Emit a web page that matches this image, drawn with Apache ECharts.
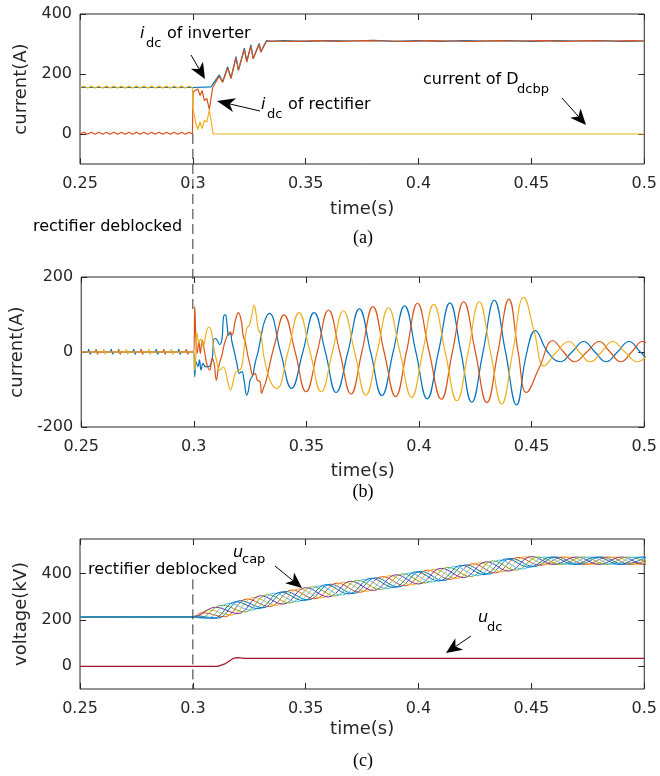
<!DOCTYPE html>
<html><head><meta charset="utf-8">
<script src="https://cdn.jsdelivr.net/npm/echarts@6/dist/echarts.min.js"></script>
<style>html,body{margin:0;padding:0;background:#fff}#c{width:660px;height:776px}</style>
</head><body><div id="c"></div>
<script>
// ---------- tick labels ----------
const xTickLabels = ['0.25','0.3','0.35','0.4','0.45','0.5'];
const yTicksA = [0,200,400];
const yTicksB = [-200,0,200];
const yTicksC = [0,200,400];

// ---------- (a) DC currents ----------
const idcInverter = [[0.25,155],[0.30,155],[0.3005,158],[0.3080,157],[0.3088,158],[0.3117,197],[0.3132,174],[0.3154,224],[0.3169,186],[0.3191,258],[0.3202,213],[0.3228,286],[0.3239,241],[0.3257,297],[0.3267,252],[0.3294,302],[0.3301,274],[0.3326,311],[0.335,309],[0.34,311],[0.35,309],[0.36,311],[0.37,310],[0.38,312],[0.39,309],[0.40,311],[0.41,309],[0.42,311],[0.43,310],[0.44,311],[0.45,309],[0.46,311],[0.47,310],[0.48,311],[0.49,309],[0.5,310]];
const idcRectifier = [[0.25,0],[0.2517,6],[0.2533,-1],[0.255,6],[0.2567,-1],[0.2583,6],[0.26,-1],[0.2617,6],[0.2633,-1],[0.265,6],[0.2667,-1],[0.2683,6],[0.27,-1],[0.2717,6],[0.2733,-1],[0.275,6],[0.2767,-1],[0.2783,6],[0.28,-1],[0.2817,6],[0.2833,-1],[0.285,6],[0.2867,-1],[0.2883,6],[0.29,-1],[0.2917,6],[0.2933,-1],[0.295,6],[0.2967,-1],[0.2983,6],[0.2998,0],[0.3001,140],[0.3012,146],[0.3022,150],[0.3032,128],[0.3041,145],[0.3051,112],[0.3062,118],[0.3073,82],[0.3088,155],[0.3117,193],[0.3132,172],[0.3154,220],[0.3169,185],[0.3191,254],[0.3202,212],[0.3228,282],[0.3239,240],[0.3257,293],[0.3267,251],[0.3294,299],[0.3301,273],[0.3326,309],[0.335,310],[0.345,309],[0.355,311],[0.365,309],[0.375,311],[0.385,310],[0.395,309],[0.405,311],[0.415,310],[0.425,309],[0.435,311],[0.445,310],[0.455,311],[0.465,309],[0.475,311],[0.485,310],[0.495,311],[0.5,310]];
const idcDcbp = [[0.25,155],[0.2517,160],[0.2533,153],[0.255,160],[0.2567,153],[0.2583,160],[0.26,153],[0.2617,160],[0.2633,153],[0.265,160],[0.2667,153],[0.2683,160],[0.27,153],[0.2717,160],[0.2733,153],[0.275,160],[0.2767,153],[0.2783,160],[0.28,153],[0.2817,160],[0.2833,153],[0.285,160],[0.2867,153],[0.2883,160],[0.29,153],[0.2917,160],[0.2933,153],[0.295,160],[0.2967,153],[0.2983,160],[0.2998,155],[0.3001,85],[0.3012,40],[0.3022,15],[0.3032,40],[0.3041,18],[0.3051,45],[0.3062,40],[0.3073,80],[0.3090,0],[0.5,0]];
const deblockA = [[0.3,0],[0.3,-590]];

// ---------- (b) AC phase currents ----------
const iaB = [[0.25,0],[0.2528,0],[0.2533,7],[0.2540,-6],[0.2545,0],[0.2628,0],[0.2633,7],[0.2640,-6],[0.2645,0],[0.2728,0],[0.2733,7],[0.2740,-6],[0.2745,0],[0.2828,0],[0.2833,7],[0.2840,-6],[0.2845,0],[0.2928,0],[0.2933,7],[0.2940,-6],[0.2945,0],[0.3,0],[0.3004,-66],[0.301,-26],[0.3018,-39],[0.3025,-21],[0.3032,-48],[0.3041,-30],[0.3051,-39],[0.3066,-39],[0.3081,-21],[0.3088,32],[0.3095,36],[0.3103,32],[0.3115,20],[0.3125,35],[0.3132,94],[0.314,99],[0.3147,76],[0.3154,45],[0.3162,50],[0.3169,28],[0.318,0],[0.3191,-30],[0.3203,-57],[0.3213,-52],[0.3223,-75],[0.3235,-115],[0.3243,-101],[0.325,-75],[0.3262,-61],[0.3272,-30],[0.3287,5],[0.3301,50],[0.3316,85],[0.3335,103],[0.3385,0],[0.3434,-97],[0.3484,0],[0.3534,105],[0.3584,0],[0.3632,-108],[0.3684,0],[0.3735,115],[0.3785,0],[0.3835,-116],[0.3885,0],[0.3936,123],[0.3986,0],[0.4036,-125],[0.4086,0],[0.4137,131],[0.4186,0],[0.4234,-134],[0.4284,0],[0.4334,138],[0.4384,0],[0.4433,-141],[0.4477,-5],[0.4516,57],[0.4571,0],[0.4627,-26],[0.4679,0],[0.4731,28],[0.4781,0],[0.4831,-26],[0.4881,0],[0.4932,28],[0.4982,0],[0.503,-26]];
const ibB = [[0.25,0],[0.2561,0],[0.2566,7],[0.2573,-6],[0.2578,0],[0.2661,0],[0.2666,7],[0.2673,-6],[0.2678,0],[0.2761,0],[0.2766,7],[0.2773,-6],[0.2778,0],[0.2861,0],[0.2866,7],[0.2873,-6],[0.2878,0],[0.2961,0],[0.2966,7],[0.2973,-6],[0.2978,0],[0.3,0],[0.3004,121],[0.3009,41],[0.3015,-4],[0.3022,28],[0.3029,-4],[0.3037,32],[0.3048,0],[0.3059,-35],[0.3071,-48],[0.3081,-17],[0.309,-30],[0.31,-75],[0.311,-40],[0.3125,-8],[0.314,30],[0.3162,54],[0.3169,45],[0.3185,85],[0.3198,105],[0.321,85],[0.322,41],[0.3228,28],[0.324,-10],[0.325,-35],[0.3262,-61],[0.3272,-57],[0.3282,-75],[0.3294,-79],[0.3301,-110],[0.331,-95],[0.332,-79],[0.3338,-30],[0.336,23],[0.34,99],[0.345,0],[0.3498,-106],[0.3548,0],[0.3598,112],[0.3648,0],[0.3698,-112],[0.3746,0],[0.3795,121],[0.3845,0],[0.3896,-119],[0.3944,0],[0.3993,130],[0.4045,0],[0.4099,-126],[0.4148,0],[0.4198,134],[0.425,0],[0.4301,-135],[0.435,0],[0.4399,141],[0.444,0],[0.4477,-108],[0.4535,-40],[0.4594,30],[0.4642,0],[0.469,-26],[0.4745,0],[0.48,28],[0.4848,0],[0.4896,-26],[0.4944,0],[0.4992,28],[0.505,0]];
const icB = [[0.25,0],[0.2595,0],[0.26,7],[0.2607,-6],[0.2612,0],[0.2695,0],[0.27,7],[0.2707,-6],[0.2712,0],[0.2795,0],[0.28,7],[0.2807,-6],[0.2812,0],[0.2895,0],[0.29,7],[0.2907,-6],[0.2912,0],[0.3,0],[0.3003,-48],[0.3007,-30],[0.3015,50],[0.3022,25],[0.303,35],[0.3041,15],[0.3056,54],[0.3066,66],[0.3076,59],[0.3088,14],[0.31,-20],[0.3115,-48],[0.313,-40],[0.3154,-88],[0.3162,-101],[0.3173,-84],[0.3185,-55],[0.32,-50],[0.3213,-39],[0.3225,20],[0.3235,63],[0.3247,72],[0.3258,100],[0.3268,125],[0.3276,103],[0.3287,58],[0.3297,50],[0.3309,-4],[0.3324,-48],[0.3345,-84],[0.3368,-97],[0.3418,0],[0.3467,105],[0.3516,0],[0.3566,-106],[0.3615,0],[0.3664,110],[0.3714,0],[0.3764,-115],[0.3814,0],[0.3864,118],[0.3915,0],[0.3967,-121],[0.4016,0],[0.4065,127],[0.4116,0],[0.4168,-130],[0.4218,0],[0.4267,134],[0.4317,0],[0.4367,-139],[0.4416,0],[0.4465,146],[0.4513,50],[0.4555,-37],[0.461,0],[0.4665,28],[0.4712,0],[0.476,-26],[0.481,0],[0.4859,28],[0.4914,0],[0.4969,-26],[0.5025,0]];

// ---------- (c) capacitor voltages and DC voltage ----------
const ucap1 = [[0.25,212],[0.3,212],[0.301,217],[0.311,207],[0.321,283],[0.331,252],[0.341,323],[0.351,286],[0.361,354],[0.371,314],[0.381,382],[0.391,342],[0.401,410],[0.411,370],[0.421,438],[0.431,398],[0.441,466],[0.451,431],[0.461,472],[0.471,440],[0.481,472],[0.491,440],[0.501,472]];
const ucap2 = [[0.25,212],[0.3,212],[0.304,231],[0.314,213],[0.324,290],[0.334,257],[0.344,329],[0.354,291],[0.364,359],[0.374,319],[0.384,387],[0.394,347],[0.404,415],[0.414,375],[0.424,443],[0.434,403],[0.444,470],[0.454,436],[0.464,472],[0.474,440],[0.484,472],[0.494,440],[0.504,472]];
const ucap3 = [[0.25,212],[0.3,212],[0.307,243],[0.317,220],[0.327,297],[0.337,262],[0.347,334],[0.357,295],[0.367,363],[0.377,323],[0.387,391],[0.397,351],[0.407,419],[0.417,379],[0.427,447],[0.437,407],[0.447,473],[0.457,440],[0.467,472],[0.477,440],[0.487,472],[0.497,440],[0.507,472]];
const ucap4 = [[0.25,212],[0.3,212],[0.31,254],[0.32,227],[0.33,304],[0.34,268],[0.35,339],[0.36,299],[0.37,367],[0.38,327],[0.39,395],[0.40,355],[0.41,423],[0.42,383],[0.43,451],[0.44,411],[0.45,474],[0.46,440],[0.47,472],[0.48,440],[0.49,472],[0.50,440],[0.51,472]];
const ucap5 = [[0.25,212],[0.3,212],[0.303,208],[0.313,263],[0.323,234],[0.333,309],[0.343,273],[0.353,343],[0.363,303],[0.373,371],[0.383,331],[0.393,399],[0.403,359],[0.413,427],[0.423,387],[0.433,455],[0.443,415],[0.453,472],[0.463,440],[0.473,472],[0.483,440],[0.493,472],[0.503,440]];
const ucap6 = [[0.25,212],[0.3,212],[0.306,206],[0.316,271],[0.326,241],[0.336,315],[0.346,278],[0.356,347],[0.366,307],[0.376,375],[0.386,335],[0.396,403],[0.406,363],[0.416,431],[0.426,391],[0.436,459],[0.446,420],[0.456,472],[0.466,440],[0.476,472],[0.486,440],[0.496,472],[0.506,440]];
const ucap7 = [[0.25,212],[0.3,212],[0.309,206],[0.319,278],[0.329,248],[0.339,320],[0.349,283],[0.359,352],[0.369,312],[0.379,380],[0.389,340],[0.399,408],[0.409,368],[0.419,436],[0.429,396],[0.439,464],[0.449,428],[0.459,472],[0.469,440],[0.479,472],[0.489,440],[0.499,472],[0.509,440]];
const udc = [[0.25,-2],[0.311,-2],[0.3145,10],[0.318,33],[0.3195,36],[0.323,33],[0.35,33],[0.4,33],[0.45,33],[0.5,33]];
const deblockC = [[0.3,375],[0.3,-100]];

// ---------- styling ----------
const FONT = 'DejaVu Sans';
const AX = '#262626';
const C = {blue:'#0072BD', orange:'#D95319', yellow:'#EDB120', purple:'#7E2F8E', green:'#77AC30', cyan:'#4DBEEE', red:'#A2142F'};

const grids = [
  {left:80, top:14, width:567, height:150},
  {left:80, top:277, width:567, height:150},
  {left:80, top:539, width:567, height:150}
];
grids.forEach(g=>{g.show=true; g.borderColor=AX; g.borderWidth=1; g.backgroundColor='transparent';});

function xBottom(gi, gap){
  return {type:'value', gridIndex:gi, min:0.25, max:0.5, interval:0.05, position:'bottom',
    axisLine:{show:false,onZero:false}, axisTick:{inside:true,length:6,lineStyle:{color:AX}},
    axisLabel:{margin:12,color:AX,fontFamily:FONT,fontSize:16,formatter:v=>xTickLabels[Math.round((v-0.25)/0.05)]},
    splitLine:{show:false}, name:'time(s)', nameLocation:'middle', nameGap:gap,
    nameTextStyle:{color:AX,fontFamily:FONT,fontSize:18}};
}
function xTop(gi){
  return {type:'value', gridIndex:gi, min:0.25, max:0.5, interval:0.05, position:'top',
    axisLine:{show:false,onZero:false}, axisTick:{inside:true,length:6,lineStyle:{color:AX}},
    axisLabel:{show:false}, splitLine:{show:false}};
}
function yLeft(gi, min, max, ticks, name){
  return {type:'value', gridIndex:gi, min, max, position:'left',
    axisLine:{show:false,onZero:false}, axisTick:{inside:true,length:6,customValues:ticks,lineStyle:{color:AX}},
    axisLabel:{customValues:ticks,margin:8,color:AX,fontFamily:FONT,fontSize:16},
    splitLine:{show:false}, name, nameLocation:'middle', nameGap:50,
    nameTextStyle:{color:AX,fontFamily:FONT,fontSize:18}};
}
function yRight(gi, min, max, ticks){
  return {type:'value', gridIndex:gi, min, max, position:'right',
    axisLine:{show:false,onZero:false}, axisTick:{inside:true,length:6,customValues:ticks,lineStyle:{color:AX}},
    axisLabel:{show:false,customValues:ticks}, splitLine:{show:false}};
}

function line(gi, data, color, extra){
  return Object.assign({type:'line', xAxisIndex:gi, yAxisIndex:gi, data, showSymbol:false, symbol:'none',
    lineStyle:{color, width:1.2}, itemStyle:{color}, animation:false}, extra||{});
}

const series = [
  line(0, idcInverter, C.blue),
  line(0, idcRectifier, C.orange),
  line(0, idcDcbp, C.yellow),
  line(0, deblockA, '#333', {clip:false, lineStyle:{color:'#333',width:1,type:[10,5]}}),
  line(1, iaB, C.blue, {smooth:0.45}),
  line(1, ibB, C.orange, {smooth:0.45}),
  line(1, icB, C.yellow, {smooth:0.45}),
  line(2, ucap1, C.blue, {smooth:0.4, lineStyle:{color:C.blue,width:1}}),
  line(2, ucap2, C.orange, {smooth:0.4, lineStyle:{color:C.orange,width:1}}),
  line(2, ucap3, C.yellow, {smooth:0.4, lineStyle:{color:C.yellow,width:1}}),
  line(2, ucap4, C.purple, {smooth:0.4, lineStyle:{color:C.purple,width:1}}),
  line(2, ucap5, C.green, {smooth:0.4, lineStyle:{color:C.green,width:1}}),
  line(2, ucap6, C.cyan, {smooth:0.4, lineStyle:{color:C.cyan,width:1}}),
  line(2, ucap7, C.blue, {smooth:0.4, lineStyle:{color:C.blue,width:1}}),
  line(2, udc, C.red),
  line(2, deblockC, '#333', {lineStyle:{color:'#333',width:1,type:[10,5]}})
];

// ---------- annotations ----------
function txt(x, y, s, size, opts){
  opts = opts || {};
  return {type:'text', x, y, z:100, silent:true, style:{text:s, fill:opts.fill||'#000',
    font:(opts.italic?'italic ':'')+size+'px '+(opts.family||FONT),
    align:opts.align||'left', verticalAlign:'middle', textAlign:opts.align||'left', textVerticalAlign:'middle'}};
}
function arrow(x1,y1,x2,y2,L,W){
  const dx=x2-x1, dy=y2-y1, len=Math.hypot(dx,dy), ux=dx/len, uy=dy/len, nx=-uy, ny=ux;
  const bx=x2-L*ux, by=y2-L*uy, mx=x2-0.72*L*ux, my=y2-0.72*L*uy;
  return [
    {type:'line', z:100, silent:true, shape:{x1,y1,x2:mx,y2:my}, style:{stroke:'#000',lineWidth:1}},
    {type:'polygon', z:100, silent:true, shape:{points:[[x2,y2],[bx+W*nx,by+W*ny],[mx,my],[bx-W*nx,by-W*ny]]}, style:{fill:'#000'}}
  ];
}
const SERIF = 'Liberation Serif';
const graphic = [
  txt(140,34,'i',16,{italic:true}), txt(146,44,'dc',13), txt(167,34,'of inverter',16),
  txt(261,105,'i',16,{italic:true}), txt(267,115,'dc',13), txt(288,105,'of rectifier',16),
  txt(423,80,'current of D',16), txt(517,90,'dcbp',13),
  txt(33,227,'rectifier deblocked',16),
  txt(88,570,'rectifier deblocked',16),
  txt(233,553,'u',16,{italic:true}), txt(242,560,'cap',13),
  txt(478,618,'u',16,{italic:true}), txt(487,628,'dc',13),
  txt(363,238,'(a)',18,{family:SERIF,align:'center'}),
  txt(363,492,'(b)',18,{family:SERIF,align:'center'}),
  txt(363,761,'(c)',18,{family:SERIF,align:'center'}),
  ...arrow(191,55,205,79,16,7),
  ...arrow(260,111,217,101,18,7),
  ...arrow(562,98,586,125,16,7),
  ...arrow(275,566,302,588,16,7),
  ...arrow(471,636,446,653,16,7)
];

const chart = echarts.init(document.getElementById('c'), null, {renderer:'canvas'});
chart.setOption({
  animation:false,
  backgroundColor:'#fff',
  grid:grids,
  xAxis:[xBottom(0,36), xBottom(1,35), xBottom(2,31), xTop(0), xTop(1), xTop(2)],
  yAxis:[yLeft(0,-100,400,yTicksA,'current(A)'), yLeft(1,-200,200,yTicksB,'current(A)'), yLeft(2,-100,550,yTicksC,'voltage(kV)'),
         yRight(0,-100,400,yTicksA), yRight(1,-200,200,yTicksB), yRight(2,-100,550,yTicksC)],
  series,
  graphic
});
</script></body></html>
